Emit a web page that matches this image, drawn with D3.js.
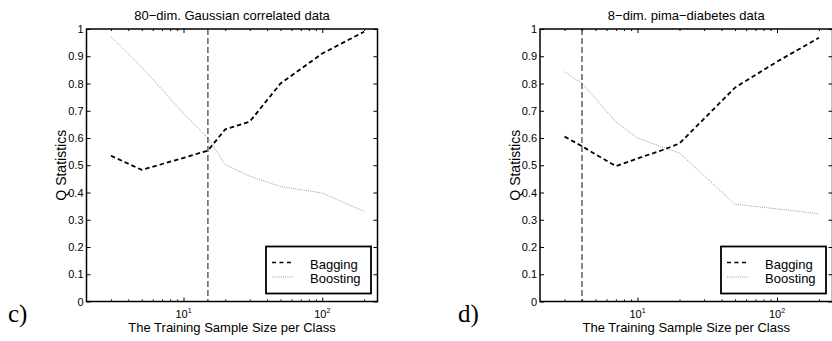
<!DOCTYPE html>
<html>
<head>
<meta charset="utf-8">
<script src="https://cdn.jsdelivr.net/npm/d3@7"></script>
<style>
  body { margin: 0; background: #fff; }
  svg { display: block; font-family: "Liberation Sans", Arial, Helvetica, sans-serif; }
</style>
</head>
<body>
<div id="chart"></div>
<script>
// sample sizes per class (x) and Q statistic values (y)
const leftN = [3, 5, 10, 15, 20, 30, 50, 100, 200]
const leftBagging = [0.535, 0.483, 0.527, 0.554, 0.632, 0.66, 0.80, 0.91, 0.99]
const leftBoosting = [0.972, 0.86, 0.69, 0.60, 0.502, 0.46, 0.422, 0.398, 0.331]
const leftMarker = 15

const rightN = [3, 4, 5, 7, 10, 15, 20, 50, 100, 200]
const rightBagging = [0.605, 0.57, 0.54, 0.497, 0.525, 0.555, 0.58, 0.785, 0.88, 0.968]
const rightBoosting = [0.843, 0.80, 0.745, 0.659, 0.60, 0.567, 0.545, 0.357, 0.34, 0.322]
const rightMarker = 4

const xDomain = [2, 250]
const yTicks = [0, 0.1, 0.2, 0.3, 0.4, 0.5, 0.6, 0.7, 0.8, 0.9, 1]
const xMajor = [10, 100]
const xMajorLabels = [['10', '1'], ['10', '2']]
const xMinor = [3, 4, 5, 6, 7, 8, 9, 20, 30, 40, 50, 60, 70, 80, 90, 200]
const seriesNames = ['Bagging', 'Boosting']

const width = 832, height = 341

const svg = d3.select('#chart').append('svg')
	.attr('width', width)
	.attr('height', height)

function drawPanel (opts) {
	const { x0, x1, top, bottom, title, letter, letterX, n, bagging, boosting, marker } = opts
	const x = d3.scaleLog().domain(xDomain).range([x0, x1]),
		y = d3.scaleLinear().domain([0, 1]).range([bottom, top]),
		g = svg.append('g')

	// lines
	const line = d3.line()
		.x((d) => x(d[0]))
		.y((d) => y(d[1]))

	g.append('path')
		.datum(n.map((v, i) => [v, boosting[i]]))
		.attr('d', line)
		.attr('fill', 'none')
		.attr('stroke', '#9a9a9a')
		.attr('stroke-width', 1)
		.attr('stroke-dasharray', '1,1.2')

	g.append('path')
		.datum(n.map((v, i) => [v, bagging[i]]))
		.attr('d', line)
		.attr('fill', 'none')
		.attr('stroke', '#000')
		.attr('stroke-width', 1.8)
		.attr('stroke-dasharray', '4.5,3')

	// vertical marker
	g.append('line')
		.attr('x1', x(marker)).attr('x2', x(marker))
		.attr('y1', y(1)).attr('y2', y(0))
		.attr('stroke', '#111')
		.attr('stroke-width', 1)
		.attr('stroke-dasharray', '6,3')

	// y axes, ticks inward
	g.append('g')
		.attr('transform', `translate(${x0},0)`)
		.call(d3.axisLeft(y).tickValues(yTicks).tickSizeInner(-4).tickSizeOuter(0).tickPadding(3)
			.tickFormat((d) => String(+d.toFixed(1))))
		.call((a) => a.select('.domain').remove())
		.call((a) => a.selectAll('text').attr('font-size', 11).attr('fill', '#000').attr('font-family', null))

	g.append('g')
		.attr('transform', `translate(${x1},0)`)
		.call(d3.axisRight(y).tickValues(yTicks).tickSizeInner(-4).tickSizeOuter(0).tickFormat(''))
		.call((a) => a.select('.domain').remove())

	// x ticks, top and bottom
	const xAxes = [
		[d3.axisBottom, bottom],
		[d3.axisTop, top]
	]
	xAxes.forEach(([ax, yy]) => {
		g.append('g')
			.attr('transform', `translate(0,${yy})`)
			.call(ax(x).tickValues(xMajor).tickSizeInner(-4).tickSizeOuter(0).tickFormat(''))
			.call((a) => a.select('.domain').remove())
		g.append('g')
			.attr('transform', `translate(0,${yy})`)
			.call(ax(x).tickValues(xMinor).tickSizeInner(-2).tickSizeOuter(0).tickFormat(''))
			.call((a) => a.select('.domain').remove())
	})

	// x tick labels with superscript
	const lbl = g.selectAll('.xlabel')
		.data(xMajor)
		.enter().append('text')
		.attr('class', 'xlabel')
		.attr('x', (d) => x(d))
		.attr('y', bottom + 16.5)
		.attr('text-anchor', 'middle')
		.attr('font-size', 11)
	lbl.append('tspan').text((d, i) => xMajorLabels[i][0])
	lbl.append('tspan').attr('dy', -5).attr('font-size', 7).text((d, i) => xMajorLabels[i][1])

	// frame
	g.append('rect')
		.attr('x', x0).attr('y', top)
		.attr('width', x1 - x0).attr('height', bottom - top)
		.attr('fill', 'none')
		.attr('stroke', '#000')
		.attr('stroke-width', 1.5)

	// titles
	g.append('text')
		.attr('x', (x0 + x1) / 2).attr('y', 20)
		.attr('text-anchor', 'middle')
		.attr('font-size', 13)
		.text(title)

	g.append('text')
		.attr('x', (x0 + x1) / 2).attr('y', 332)
		.attr('text-anchor', 'middle')
		.attr('font-size', 13)
		.text('The Training Sample Size per Class')

	g.append('text')
		.attr('transform', `translate(${x0 - 20.5},${(top + bottom) / 2}) rotate(-90)`)
		.attr('text-anchor', 'middle')
		.attr('font-size', 14)
		.text('Q Statistics')

	g.append('text')
		.attr('x', letterX).attr('y', 322)
		.attr('font-family', '"Liberation Serif", "Times New Roman", serif')
		.attr('font-size', 25)
		.text(letter)

	// legend
	const lw = 105, lh = 47,
		lx = x1 - 6.5 - lw, ly = bottom - 8 - lh,
		legend = g.append('g').attr('transform', `translate(${lx},${ly})`)

	legend.append('rect')
		.attr('width', lw).attr('height', lh)
		.attr('fill', '#fff')
		.attr('stroke', '#000')
		.attr('stroke-width', 1.8)

	const styles = [
		{ stroke: '#000', w: 1.5, dash: '4,3.5' },
		{ stroke: '#9a9a9a', w: 1, dash: '1,1.2' }
	]
	seriesNames.forEach((name, i) => {
		const yy = 16 + i * 14.5
		legend.append('line')
			.attr('x1', 6).attr('x2', 27)
			.attr('y1', yy).attr('y2', yy)
			.attr('stroke', styles[i].stroke)
			.attr('stroke-width', styles[i].w)
			.attr('stroke-dasharray', styles[i].dash)
		legend.append('text')
			.attr('x', 44).attr('y', yy + 6)
			.attr('font-size', 13)
			.text(name)
	})
}

drawPanel({
	x0: 86.5, x1: 377.5, top: 29, bottom: 301.5,
	title: '80\u2212dim. Gaussian correlated data',
	letter: 'c)', letterX: 8,
	n: leftN, bagging: leftBagging, boosting: leftBoosting, marker: leftMarker
})

drawPanel({
	x0: 540, x1: 832.5, top: 29, bottom: 301.5,
	title: '8\u2212dim. pima\u2212diabetes data',
	letter: 'd)', letterX: 458,
	n: rightN, bagging: rightBagging, boosting: rightBoosting, marker: rightMarker
})
</script>
</body>
</html>
